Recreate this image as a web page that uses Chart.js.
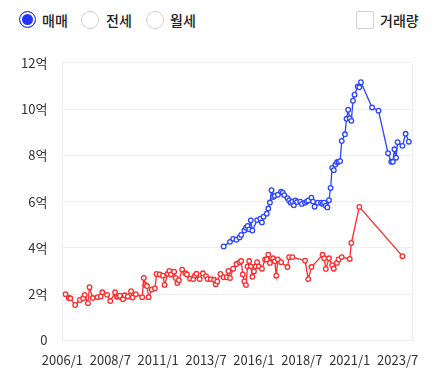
<!DOCTYPE html>
<html>
<head>
<meta charset="utf-8">
<script src="https://cdn.jsdelivr.net/npm/chart.js@4"></script>
<style>
  body { margin: 0; background: #fff; font-family: "Noto Sans CJK KR", sans-serif; }
  #wrap { position: relative; width: 443px; height: 380px; overflow: hidden; }
  .opt { position: absolute; top: 10px; height: 20px; line-height: 20px; font-size: 14px; color: #222; font-weight: 500; }
  .radio { position: absolute; top: 11px; width: 16px; height: 16px; border-radius: 50%; border: 1px solid #cfd2d8; background: #fff; }
  .radio.on { border: 1.5px solid #1f35ff; width: 15px; height: 15px; background: #1f35ff; box-shadow: inset 0 0 0 2px #fff; }
  .check { position: absolute; top: 11px; left: 356px; width: 16px; height: 16px; border: 1.5px solid #d0d3da; border-radius: 2px; background: #fff; }
  #c { position: absolute; left: 0; top: 40px; }
</style>
</head>
<body>
<div id="wrap">
  <div class="radio on" style="left:19px"></div><div class="opt" style="left:42px">매매</div>
  <div class="radio" style="left:81px"></div><div class="opt" style="left:106px">전세</div>
  <div class="radio" style="left:146px"></div><div class="opt" style="left:170px">월세</div>
  <div class="check"></div><div class="opt" style="left:380px">거래량</div>
  <canvas id="c" width="443" height="340"></canvas>
</div>
<script>
// 매매 실거래가 (단위: 억)
var blueDates = ["2014/6","2014/10","2014/12","2015/2","2015/4","2015/5","2015/7","2015/8","2015/9","2015/10","2015/11","2015/12",
  "2016/3","2016/5","2016/6","2016/7","2016/9","2016/10","2016/11","2016/12","2017/1","2017/2","2017/4","2017/6","2017/7","2017/8",
  "2017/10","2017/11","2017/12","2018/1","2018/2","2018/3","2018/4","2018/6","2018/7","2018/9","2018/10","2018/11","2019/1","2019/2",
  "2019/3","2019/5","2019/7","2019/8","2019/9","2019/10","2019/11","2019/12","2020/1","2020/2","2020/3","2020/4","2020/5","2020/6",
  "2020/7","2020/8","2020/10","2020/11","2020/12","2021/1","2021/2","2021/3","2021/4","2021/6","2021/7","2021/8","2022/3","2022/7",
  "2023/1","2023/3","2023/4","2023/5","2023/6","2023/7","2023/10","2023/12","2024/2"];
var blueValues = [4.06,4.26,4.39,4.35,4.45,4.56,4.75,4.87,4.95,4.8,5.19,4.75,
  5.2,5.26,5.1,5.35,5.48,5.7,5.96,6.49,6.2,6.25,6.3,6.43,6.39,6.28,
  6.15,6.05,5.95,6.0,5.84,6.05,5.98,6.0,5.9,5.95,6.0,6.05,6.17,6.0,
  5.78,5.95,5.95,5.9,5.95,5.82,5.75,6.06,6.59,7.46,7.36,7.6,7.7,7.72,
  7.75,8.62,8.91,9.58,9.97,9.6,9.49,10.36,10.62,10.98,10.94,11.16,10.07,9.93,
  8.09,7.72,7.72,8.26,7.9,8.57,8.41,8.93,8.59];

var redDates = ["2006/3","2006/5","2006/6","2006/9","2006/12","2007/2","2007/3","2007/5","2007/6","2007/8","2007/11","2008/1",
  "2008/2","2008/5","2008/7","2008/10","2008/11","2008/12","2009/1","2009/3","2009/4","2009/6","2009/8","2009/9","2009/11",
  "2010/3","2010/4","2010/5","2010/6","2010/7","2010/9","2010/11","2010/12","2011/2","2011/4","2011/5","2011/7","2011/8","2011/9",
  "2011/11","2011/12","2012/1","2012/2","2012/4","2012/6","2012/7","2012/9","2012/11","2012/12","2013/1","2013/3","2013/5","2013/7",
  "2013/8","2013/10","2013/12","2014/1","2014/2","2014/4","2014/6","2014/8","2014/9","2014/10","2014/12","2015/2","2015/4","2015/5",
  "2015/6","2015/7","2015/8","2015/9","2015/10","2015/11","2015/12","2016/1","2016/2","2016/3","2016/4","2016/6","2016/8","2016/9",
  "2016/10","2016/11","2017/1","2017/2","2017/3","2017/4","2017/6","2017/10","2017/11","2018/1","2018/9","2018/11","2019/1","2019/8",
  "2019/9","2019/10","2019/12","2020/2","2020/3","2020/5","2020/6","2020/8","2021/1","2021/2","2021/7","2023/10"];
var redValues = [2.0,1.83,1.82,1.53,1.75,1.82,1.97,1.61,2.3,1.83,1.87,1.9,
  2.08,1.97,1.7,2.08,1.9,1.88,1.93,1.78,1.95,1.9,2.13,1.85,2.0,
  1.87,2.7,2.4,2.35,1.87,2.2,2.25,2.87,2.85,2.8,2.4,2.88,3.0,2.85,
  2.97,2.7,2.48,2.6,3.06,2.9,2.85,2.67,2.65,2.8,2.88,2.65,2.9,2.78,
  2.65,2.65,2.62,2.43,2.55,2.87,2.73,2.73,3.0,2.7,3.1,3.3,3.38,3.43,
  2.85,2.55,2.39,3.2,3.43,3.2,2.75,2.98,3.2,3.38,3.2,3.1,3.5,3.5,
  3.71,3.35,3.55,3.42,2.8,3.5,3.38,3.17,3.6,3.6,3.45,2.65,3.17,3.7,
  3.55,3.09,3.55,3.25,3.1,3.35,3.5,3.6,3.52,4.21,5.77,3.64];

var xTickLabels = ["2006/1","2008/7","2011/1","2013/7","2016/1","2018/7","2021/1","2023/7"];
var xEnd = "2024/4";

function monthIndex(s) {
    var p = s.split("/");
    return (parseInt(p[0]) - 2006) * 12 + parseInt(p[1]) - 1;
}
function monthLabel(v) {
    return (2006 + Math.floor(v / 12)) + "/" + (v % 12 + 1);
}
function toPoints(dates, values) {
    return dates.map(function (d, i) { return { x: monthIndex(d), y: values[i] }; });
}

var xTicks = xTickLabels.map(monthIndex);
var xMax = monthIndex(xEnd);
var gridColor = "#eeeeee";
var tickFont = { family: "'Noto Sans CJK KR', sans-serif", size: 13 };

function lineSet(data, color) {
    return {
        data: data,
        borderColor: color,
        backgroundColor: "#fff",
        borderWidth: 1.3,
        pointRadius: 2.3,
        pointBorderWidth: 1.3,
        pointBackgroundColor: "#fff",
        pointBorderColor: color,
        tension: 0
    };
}

new Chart(document.getElementById("c"), {
    type: "line",
    data: {
        datasets: [
            lineSet(toPoints(blueDates, blueValues), "#2b45ff"),
            lineSet(toPoints(redDates, redValues), "#ff2a2a")
        ]
    },
    options: {
        responsive: false,
        animation: false,
        layout: { padding: { left: 6, right: 31, top: 12, bottom: 0 } },
        plugins: { legend: { display: false }, tooltip: { enabled: false } },
        scales: {
            x: {
                type: "linear",
                min: 0,
                max: xMax,
                afterBuildTicks: function (scale) {
                    scale.ticks = xTicks.concat([xMax]).map(function (v) { return { value: v }; });
                },
                ticks: {
                    autoSkip: false,
                    maxRotation: 0,
                    padding: 12,
                    color: "#333",
                    font: tickFont,
                    callback: function (v) { return v === xMax ? "" : monthLabel(v); }
                },
                grid: {
                    drawTicks: false,
                    color: function (ctx) { return ctx.tick && ctx.tick.value === xMax ? gridColor : "rgba(0,0,0,0)"; }
                },
                border: { display: true, color: gridColor }
            },
            y: {
                min: 0,
                max: 12,
                ticks: {
                    stepSize: 2,
                    padding: 15,
                    color: "#333",
                    font: tickFont,
                    callback: function (v) { return v === 0 ? "0" : v + "억"; }
                },
                grid: { drawTicks: false, color: gridColor },
                border: { display: true, color: gridColor }
            }
        }
    }
});
</script>
</body>
</html>
